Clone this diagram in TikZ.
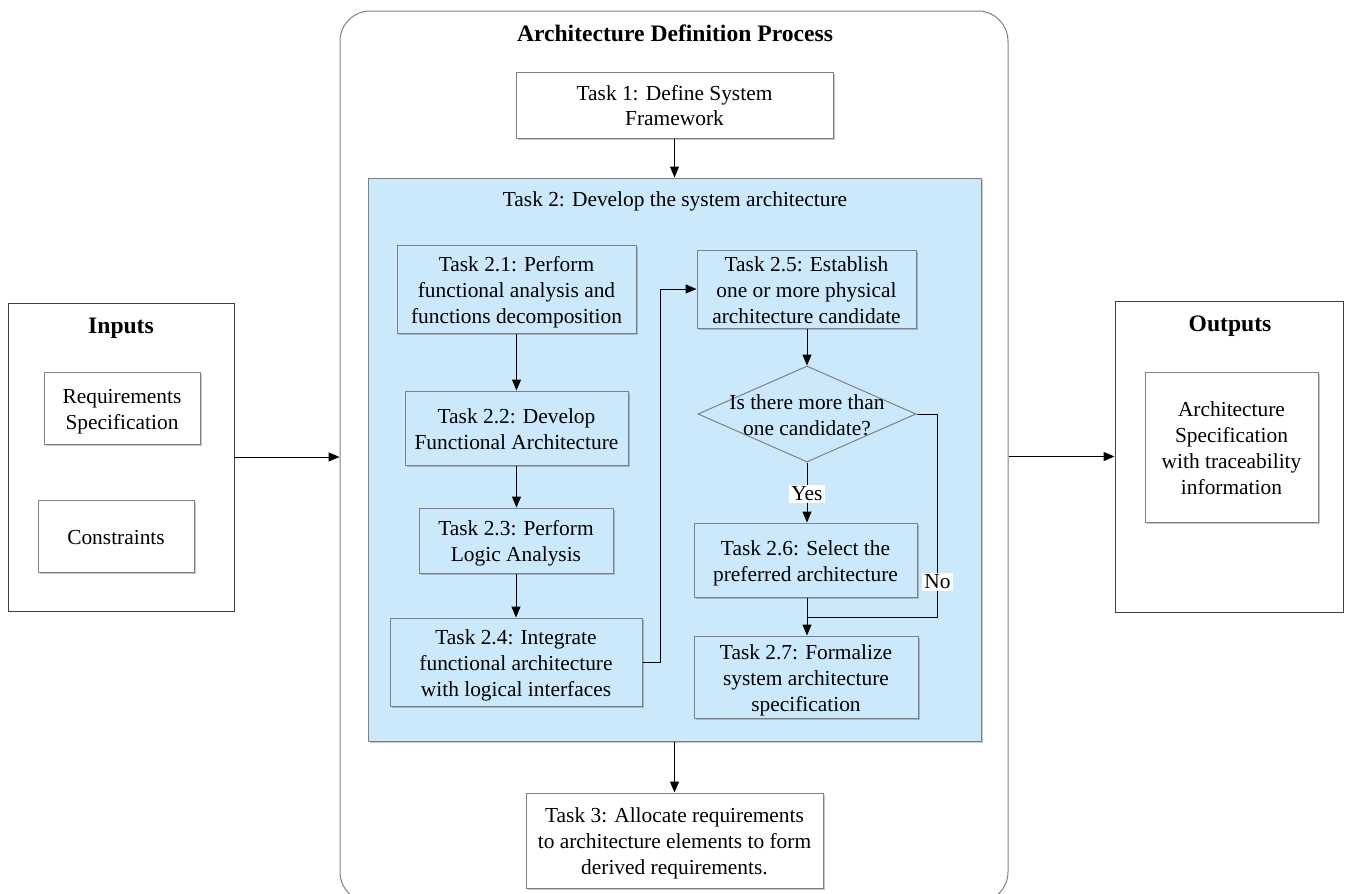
\documentclass[tikz,border=0pt]{standalone}
\usepackage{fontspec}
\setmainfont{Liberation Serif}
\usetikzlibrary{shapes.geometric,arrows.meta,shadows}
\definecolor{taskblue}{RGB}{204,233,252}
\definecolor{boxgray}{RGB}{128,128,128}
\definecolor{framegray}{RGB}{64,64,64}
\newcommand\mlines[1]{\raisebox{-1.4pt}[\height][\depth]{\begin{tabular}{@{}c@{}}#1\end{tabular}}}
\begin{document}
\begin{tikzpicture}[x=0.5pt,y=-0.5pt,
  txt/.style={font=\fontsize{10.7}{13}\selectfont, align=center},
  ttl/.style={font=\fontsize{11.8}{13}\selectfont\bfseries, align=center},
  shd/.style={drop shadow={shadow xshift=1.2pt, shadow yshift=-1.2pt, fill=black, opacity=0.22}},
  box/.style={txt, draw=boxgray, line width=0.5pt, inner sep=0pt, shd},
  bluebox/.style={box, fill=taskblue},
  whitebox/.style={box, fill=white},
  frame/.style={draw=framegray, line width=0.5pt, fill=white, inner sep=0pt},
  arr/.style={-{Triangle[length=5.5pt,width=4.5pt]}, line width=0.5pt, black},
  lbl/.style={txt, fill=white, inner sep=1pt}
]
\useasboundingbox (0,0) rectangle (1346,894);

% containers
\node[frame] (inputs) at (121,457) [minimum width=113pt, minimum height=154pt] {};
\node[ttl] (inttl) at (121,328) {Inputs};
\node[frame] (outputs) at (1229,456.5) [minimum width=114pt, minimum height=155.5pt] {};
\node[ttl] (outttl) at (1230,326) {Outputs};
\node[draw=boxgray, line width=0.5pt, fill=white, rounded corners=15pt, inner sep=0pt,
      minimum width=334pt, minimum height=445.5pt] (big) at (674,456.5) {};
\node[ttl] (bigttl) at (675,33) {Architecture Definition Process};

% input / output items
\node[whitebox, minimum width=78pt, minimum height=36pt] (req) at (122,408) {\mlines{Requirements\\Specification}};
\node[whitebox, minimum width=78pt, minimum height=36pt] (cons) at (116,536) {\mlines{Constraints}};
\node[whitebox, minimum width=86.5pt, minimum height=75pt] (arch) at (1231.5,447) {\mlines{Architecture\\Specification\\with traceability\\information}};

% task 1, 2, 3
\node[whitebox, minimum width=158.5pt, minimum height=33pt] (t1) at (674.5,105) {\mlines{Task 1: Define System\\Framework}};
\node[bluebox, minimum width=306.5pt, minimum height=281.5pt] (t2) at (674.5,459.5) {};
\node[txt] (t2ttl) at (675,201) {Task 2: Develop the system architecture};
\node[whitebox, minimum width=148.5pt, minimum height=47.5pt] (t3) at (674.5,840.5) {\mlines{Task 3: Allocate requirements\\to architecture elements to form\\derived requirements.}};

% subtasks
\node[bluebox, minimum width=119.5pt, minimum height=44pt] (t21) at (516.5,289) {\mlines{Task 2.1: Perform\\functional analysis and\\functions decomposition}};
\node[bluebox, minimum width=111.5pt, minimum height=37pt] (t22) at (516.5,428) {\mlines{Task 2.2: Develop\\Functional Architecture}};
\node[bluebox, minimum width=97pt, minimum height=32.5pt] (t23) at (516,540.5) {\mlines{Task 2.3: Perform\\Logic Analysis}};
\node[bluebox, minimum width=126pt, minimum height=44pt] (t24) at (516,662) {\mlines{Task 2.4: Integrate\\functional architecture\\with logical interfaces}};
\node[bluebox, minimum width=109.5pt, minimum height=39pt] (t25) at (806.5,289) {\mlines{Task 2.5: Establish\\one or more physical\\architecture candidate}};
\node[diamond, draw=boxgray, line width=0.5pt, fill=taskblue, inner sep=0pt,
      minimum width=109pt, minimum height=48pt] (dia) at (807,414) {};
\node[txt] (diatxt) at (807,414) {\mlines{Is there more than\\one candidate?}};
\node[bluebox, minimum width=111.5pt, minimum height=37pt] (t26) at (805.5,560) {\mlines{Task 2.6: Select the\\preferred architecture}};
\node[bluebox, minimum width=112pt, minimum height=41pt] (t27) at (806,677) {\mlines{Task 2.7: Formalize\\system architecture\\specification}};

% connectors
\draw[arr] (inputs.east) -- (inputs.east -| big.west);
\draw[arr] (big.east |- outputs.west) -- (outputs.west);
\draw[arr] (t1.south) -- (t1.south |- t2.north);
\draw[arr] (t2.south -| t3.north) -- (t3.north);
\draw[arr] (t21.south) -- (t21.south |- t22.north);
\draw[arr] (t22.south) -- (t22.south |- t23.north);
\draw[arr] (t23.south) -- (t23.south |- t24.north);
\draw[arr] (t24.east) -- ++(18,0) |- (t25.west);
\draw[arr] (dia.north |- t25.south) -- (dia.north);
\draw[arr] (dia.south) -- (dia.south |- t26.north);
\node[lbl] (yes) at (807,494) {Yes};
\coordinate (merge) at (807,617);
\draw[line width=0.5pt] (dia.east) -- ++(21,0) coordinate (nr) -- (nr |- merge) -- (merge);
\node[lbl] (no) at (nr |- 0,582) {No};
\draw[arr] (t26.south -| merge) -- (merge |- t27.north);
\end{tikzpicture}
\end{document}
